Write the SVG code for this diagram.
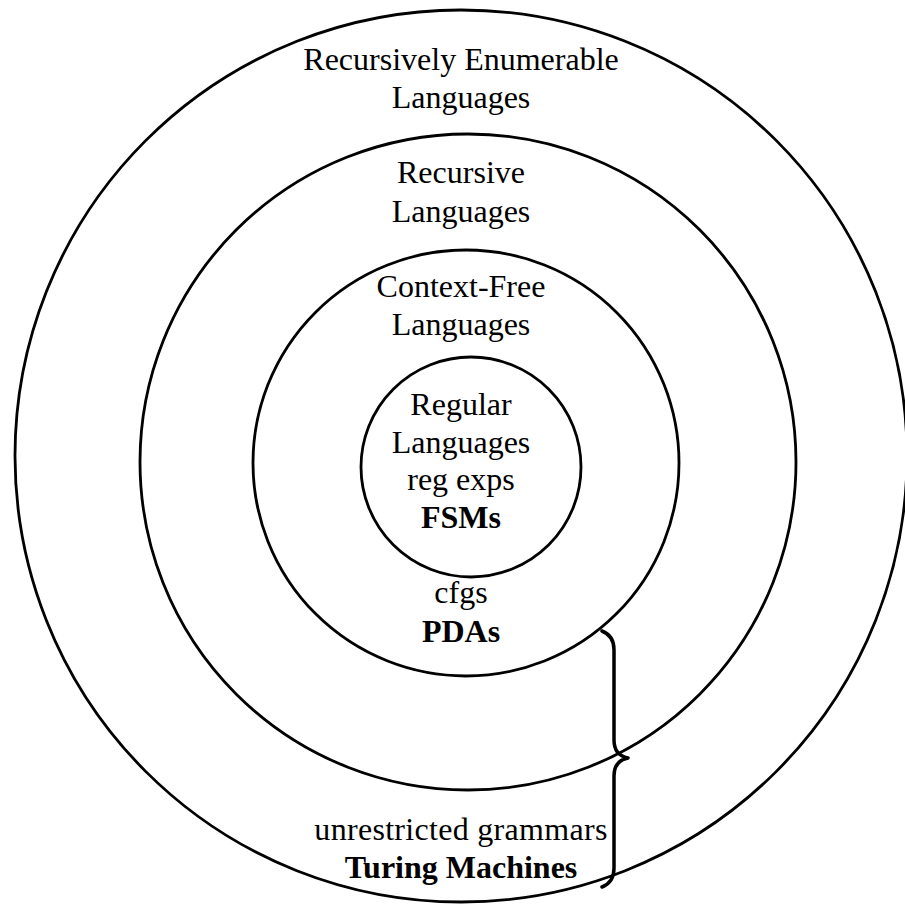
<svg xmlns="http://www.w3.org/2000/svg" width="905" height="906" viewBox="0 0 905 906">
<style>
.ring{fill:none;stroke:#000;stroke-width:2.8}
.brace{fill:none;stroke:#000;stroke-width:3.5;stroke-linecap:round;stroke-linejoin:round}
text{font-family:"Liberation Serif","Times New Roman",serif;font-size:32px;fill:#000;text-anchor:middle}
.b{font-weight:bold}
</style>
<rect width="905" height="906" fill="#fff"/>
<g id="re">
<circle class="ring" cx="461" cy="456" r="446"/>
<text x="461" y="70">Recursively Enumerable</text>
<text x="461" y="108">Languages</text>
<text x="461" y="840" letter-spacing="0.3">unrestricted grammars</text>
<text class="b" x="461" y="878">Turing Machines</text>
</g>
<g id="rec">
<circle class="ring" cx="468" cy="462" r="328"/>
<text x="461" y="183">Recursive</text>
<text x="461" y="222">Languages</text>
</g>
<g id="cf">
<circle class="ring" cx="466" cy="463" r="213"/>
<text x="461" y="297">Context-Free</text>
<text x="461" y="335">Languages</text>
<text x="461" y="603">cfgs</text>
<text class="b" x="461" y="642">PDAs</text>
</g>
<g id="reg">
<circle class="ring" cx="471" cy="467" r="110"/>
<text x="461" y="415">Regular</text>
<text x="461" y="453">Languages</text>
<text x="461" y="490">reg exps</text>
<text class="b" x="461" y="528">FSMs</text>
</g>
<g id="connectors">
<path class="brace" d="M602 631 C610 634 614 640 614 650 L614 740 C614 750 618 756 628 758 C618 760 614 766 614 776 L614 868 C614 878 610 884 602 887"/>
</g>
</svg>
